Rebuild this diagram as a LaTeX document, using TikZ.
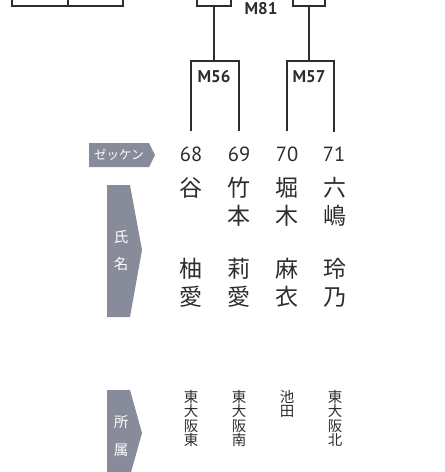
\documentclass[tikz,border=0pt]{standalone}
\usepackage{fontspec}
\setmainfont{PT Sans}
\newfontfamily\cjk{Noto Sans CJK JP}
\usepackage{tikz}
\usetikzlibrary{positioning}
\definecolor{tagcol}{RGB}{136,140,154}
\definecolor{linecol}{RGB}{45,45,45}

\tikzset{
  bracket/.style={draw=linecol,line width=1.8pt},
  tag/.style={fill=tagcol},
  taglabel/.style={text=white,inner sep=0pt,align=center},
  bib/.style={font=\fontsize{20.5}{24}\selectfont,text=linecol,inner sep=0pt},
  match/.style={font=\bfseries\fontsize{17}{20}\selectfont,text=linecol,inner sep=0pt},
  person/.style={font=\cjk\fontsize{23}{28}\selectfont,text=linecol,inner sep=0pt,align=center,anchor=north},
  club/.style={font=\cjk\fontsize{14.5}{14.5}\selectfont,text=linecol,inner sep=0pt,align=center,anchor=north}
}

\begin{document}
\begin{tikzpicture}[x=1pt,y=-1pt]
  \useasboundingbox (0,0) rectangle (445,472);
  % cut-off boxes at the top
  \coordinate (t1) at (12,0);
  \coordinate (t2) at (68,0);
  \coordinate (t3) at (123,0);
  \draw[bracket] (t1) |- (t3 |- 0,6) -- (t3);
  \draw[bracket] (t2) -- (t2 |- 0,6);
  \coordinate (a1) at (197,0);
  \coordinate (a2) at (231,0);
  \coordinate (c1) at (293,0);
  \coordinate (c2) at (325,0);
  \coordinate (r81) at (214,6);
  \coordinate (s81) at (309,6);
  \draw[bracket] (a1) |- (r81) -| (a2);
  \draw[bracket] (c1) |- (s81) -| (c2);
  \node[match] (m81) at (261,8.5) {M81};

  % bibs
  \node[bib] (b68) at (191,154) {68};
  \node[bib] (b69) at (239,154) {69};
  \node[bib] (b70) at (287,154) {70};
  \node[bib] (b71) at (334,154) {71};

  % first round
  \coordinate (q56) at (214,61);
  \coordinate (q57) at (309,61);
  \draw[bracket] ([yshift=15pt]b68.north) |- (q56) -| ([yshift=15pt]b69.north);
  \draw[bracket] ([yshift=15pt]b70.north) |- (q57) -| ([yshift=15pt]b71.north);
  \draw[bracket] (q56) -- (r81);
  \draw[bracket] (q57) -- (s81);
  \node[match,below=9pt of q56] (m56) {M56};
  \node[match,below=9pt of q57] (m57) {M57};

  % row headers
  \fill[tag] (89,143) -- (149,143) -- (155,155) -- (149,167) -- (89,167) -- cycle;
  \node[taglabel,font=\cjk\fontsize{12.5}{14}\selectfont] (hbib) at (119,155) {ゼッケン};
  \fill[tag] (107,185) -- (130,185) -- (142,250) -- (130,317) -- (107,317) -- cycle;
  \node[taglabel,font=\cjk\fontsize{14.5}{27}\selectfont] (hname) at (121,251) {氏\\名};
  \fill[tag] (107,390) -- (130,390) -- (142,433) -- (130,476) -- (107,476) -- cycle;
  \node[taglabel,font=\cjk\fontsize{14.5}{28}\selectfont] (hclub) at (121,436) {所\\属};

  % names
  \node[person] (f68) at (191,177) {谷};
  \node[person] (f69) at (239,177) {竹\\本};
  \node[person] (f70) at (287,177) {堀\\木};
  \node[person] (f71) at (335,177) {六\\嶋};
  \node[person] (g68) at (191,258) {柚\\愛};
  \node[person] (g69) at (239,258) {莉\\愛};
  \node[person] (g70) at (287,258) {麻\\衣};
  \node[person] (g71) at (335,258) {玲\\乃};

  % clubs
  \node[club] (k68) at (191,390) {東\\大\\阪\\東};
  \node[club] (k69) at (239,390) {東\\大\\阪\\南};
  \node[club] (k70) at (287,390) {池\\田};
  \node[club] (k71) at (335,390) {東\\大\\阪\\北};
\end{tikzpicture}
\end{document}
